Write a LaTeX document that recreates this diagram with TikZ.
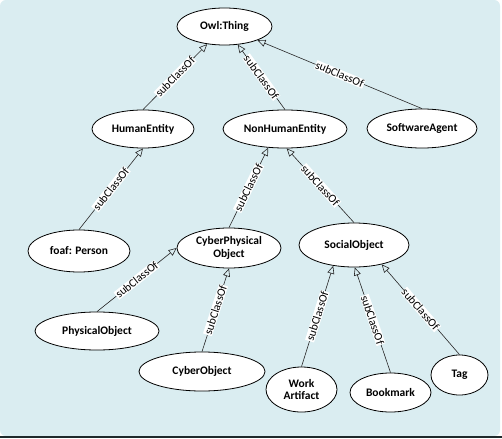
\documentclass[tikz,border=0pt]{standalone}
\usepackage{fontspec}
\setmainfont{Carlito}
\usetikzlibrary{arrows.meta}
\definecolor{bgblue}{HTML}{DAEDF1}
\definecolor{edgedark}{HTML}{1E2A2C}
\tikzset{
  cls/.style={ellipse, draw=black, fill=white, line width=0.8pt, font=\bfseries\fontsize{11.5}{12.5}\selectfont, inner sep=0pt, align=center},
  sub/.style={-{Triangle[open,width=7pt,length=8pt]}, line width=0.6pt, draw=black!85},
  lbl/.style={sloped, fill=white, inner sep=0.6pt, font=\fontsize{11.5}{12}\selectfont, midway}
}
\usetikzlibrary{shapes.geometric}
\begin{document}
\begin{tikzpicture}[x=1pt,y=-1pt]
\useasboundingbox (0,0) rectangle (502,438);
\fill[white] (0,0) rectangle (502,438);
\fill[bgblue, rounded corners=6pt] (0,0) rectangle (500,436);
\fill[edgedark] (0,435.5) rectangle (502,438);
% nodes
\node[cls, minimum width=95pt, minimum height=37pt] (owl) at (224.5,26.5) {Owl:Thing};
\node[cls, minimum width=102pt, minimum height=38pt] (human) at (143,129) {HumanEntity};
\node[cls, minimum width=124pt, minimum height=38pt] (nonhuman) at (285,129) {NonHumanEntity};
\node[cls, minimum width=110pt, minimum height=39pt] (soft) at (422,128.5) {SoftwareAgent};
\node[cls, minimum width=102pt, minimum height=42pt] (foaf) at (79,251) {foaf: Person};
\node[cls, minimum width=104pt, minimum height=40pt] (cps) at (229,248) {CyberPhysical\\Object};
\node[cls, minimum width=110pt, minimum height=44pt] (social) at (354,245) {SocialObject};
\node[cls, minimum width=124pt, minimum height=38pt] (phys) at (97,331) {PhysicalObject};
\node[cls, minimum width=126pt, minimum height=39pt] (cyber) at (202,371.5) {CyberObject};
\node[cls, minimum width=71pt, minimum height=45pt] (work) at (301.5,389.5) {Work\\Artifact};
\node[cls, minimum width=81pt, minimum height=39pt] (book) at (390.5,392.5) {Bookmark};
\node[cls, minimum width=57pt, minimum height=40pt] (tag) at (459.5,375) {Tag};
% edges
\draw[sub] (human.north) -- (owl) node[lbl] {subClassOf};
\draw[sub] (nonhuman.north) -- (owl) node[lbl] {subClassOf};
\draw[sub] (soft.north) -- (owl) node[lbl] {subClassOf};
\draw[sub] (foaf.north) -- (human.south) node[lbl] {subClassOf};
\draw[sub] (cps.north) -- (nonhuman.228) node[lbl] {subClassOf};
\draw[sub] (social.north) -- (nonhuman.275) node[lbl] {subClassOf};
\draw[sub] (phys.north) -- (cps.west) node[lbl] {subClassOf};
\draw[sub] (cyber.north) -- (cps.south) node[lbl] {subClassOf};
\draw[sub] (work.north) -- (social.225) node[lbl] {subClassOf};
\draw[sub] (book.north) -- (social.272) node[lbl] {subClassOf};
\draw[sub] (tag.north) -- (social.325) node[lbl] {subClassOf};
\end{tikzpicture}
\end{document}
